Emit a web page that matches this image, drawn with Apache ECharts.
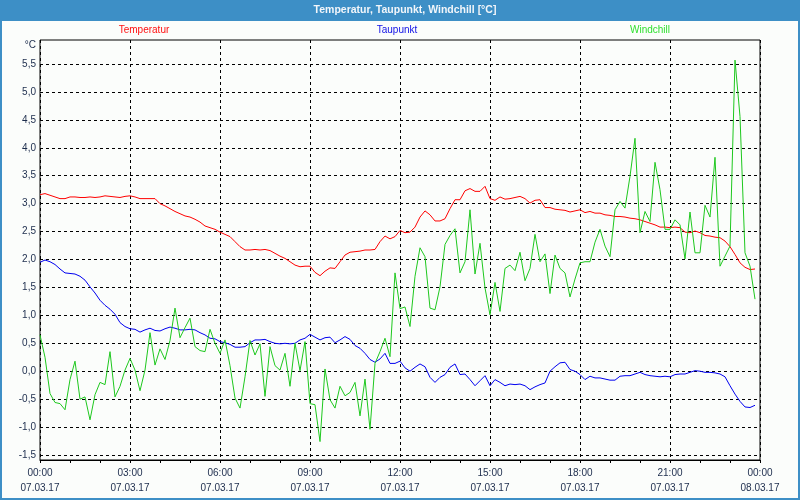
<!DOCTYPE html>
<html>
<head>
<meta charset="utf-8">
<script src="https://cdn.jsdelivr.net/npm/echarts@6/dist/echarts.min.js"></script>
<style>
html,body{margin:0;padding:0;background:#fbfdfb;}
#chart{width:800px;height:500px;}
</style>
</head>
<body>
<div id="chart"></div>
<script>
// ---- data (10-minute samples, 07.03.17 00:00 .. 23:50) ----
const STEP_HOURS = 1 / 6;
const tickTimes = ['00:00','03:00','06:00','09:00','12:00','15:00','18:00','21:00','00:00'];
const tickDates = ['07.03.17','07.03.17','07.03.17','07.03.17','07.03.17','07.03.17','07.03.17','07.03.17','08.03.17'];
const seriesNames = ['Temperatur','Taupunkt','Windchill'];

const temperatur = [
  3.16,3.18,3.15,3.12,3.09,3.09,3.12,3.12,3.11,3.11,
  3.12,3.11,3.12,3.14,3.13,3.12,3.11,3.13,3.14,3.12,
  3.09,3.09,3.09,3.09,3.00,2.96,2.91,2.86,2.82,2.78,
  2.76,2.72,2.67,2.60,2.57,2.54,2.49,2.45,2.41,
  2.32,2.23,2.17,2.17,2.18,2.17,2.18,2.16,2.11,2.06,
  2.02,1.96,1.90,1.87,1.88,1.88,1.77,1.71,1.79,1.85,
  1.84,1.96,2.08,2.13,2.14,2.15,2.17,2.17,2.18,2.32,
  2.42,2.37,2.41,2.52,2.48,2.49,2.58,2.76,
  2.87,2.80,2.69,2.69,2.73,2.91,3.07,3.07,3.23,3.27,
  3.22,3.22,3.31,3.09,3.06,3.12,3.08,3.09,3.11,3.13,
  3.09,3.01,3.06,3.07,2.93,2.93,2.90,2.89,2.88,2.85,
  2.87,2.89,2.84,2.86,2.83,2.83,2.80,2.79,
  2.77,2.77,2.76,2.74,2.73,2.71,2.68,2.65,2.62,2.58,
  2.58,2.57,2.58,2.57,2.49,2.48,2.51,2.48,2.43,2.42,
  2.40,2.39,2.33,2.23,2.09,1.94,1.86,1.82,1.83
];
const taupunkt = [
  1.95,1.99,1.96,1.91,1.83,1.76,1.75,1.74,1.70,1.63,
  1.51,1.40,1.27,1.18,1.11,1.02,0.87,0.80,0.76,0.75,
  0.70,0.74,0.77,0.73,0.72,0.76,0.79,0.77,0.74,0.74,
  0.75,0.74,0.69,0.65,0.59,0.58,0.53,0.51,0.48,
  0.43,0.43,0.44,0.51,0.56,0.56,0.57,0.53,0.50,0.49,
  0.50,0.49,0.50,0.56,0.59,0.66,0.61,0.56,0.60,0.61,
  0.51,0.56,0.62,0.57,0.46,0.41,0.32,0.21,0.16,0.22,
  0.32,0.14,0.14,0.18,0.06,0.00,0.07,0.13,
  0.08,-0.11,-0.20,-0.11,-0.06,0.07,0.13,-0.06,-0.05,-0.15,
  -0.26,-0.17,-0.08,-0.26,-0.15,-0.20,-0.26,-0.23,-0.24,-0.23,
  -0.26,-0.33,-0.28,-0.24,-0.21,0.00,0.08,0.15,0.16,0.03,
  0.00,-0.06,-0.15,-0.09,-0.12,-0.12,-0.14,-0.16,
  -0.16,-0.09,-0.08,-0.08,-0.05,-0.02,-0.06,-0.08,-0.09,-0.10,
  -0.09,-0.10,-0.06,-0.05,-0.05,-0.02,0.01,0.00,-0.02,-0.02,
  -0.03,-0.05,-0.10,-0.26,-0.41,-0.54,-0.64,-0.65,-0.61
];
const windchill = [
  0.65,0.25,-0.40,-0.56,-0.58,-0.69,-0.15,0.18,-0.50,-0.46,
  -0.87,-0.42,-0.20,-0.24,0.35,-0.46,-0.27,0.02,0.23,0.02,
  -0.35,0.02,0.69,0.11,0.40,0.21,0.55,1.13,0.60,0.78,
  0.95,0.44,0.37,0.35,0.75,0.50,0.32,0.56,0.10,
  -0.48,-0.66,-0.10,0.55,0.29,0.49,-0.45,0.44,0.10,0.02,
  0.32,-0.27,0.50,0.01,0.53,-0.58,-0.60,-1.26,0.04,-0.51,
  -0.66,-0.27,-0.44,-0.38,-0.20,-0.80,-0.14,-1.04,0.14,0.35,
  0.59,0.26,1.76,1.12,1.15,0.80,1.70,2.21,
  2.05,1.13,1.10,1.51,2.27,2.43,2.55,1.76,1.96,2.89,
  1.74,2.29,1.49,1.01,1.59,1.07,1.84,1.90,1.80,2.13,
  1.62,1.84,2.45,1.96,2.10,1.39,2.08,1.84,1.76,1.33,
  1.65,1.94,1.96,1.96,2.31,2.54,2.24,2.05,
  2.89,3.04,2.92,3.49,4.17,2.48,2.86,2.68,3.74,3.25,
  2.54,2.54,2.71,2.62,2.01,2.85,2.12,2.12,2.97,2.76,
  3.83,1.88,2.06,2.24,5.57,4.56,2.12,1.88,1.29
];

// ---- layout ----
const FONT = 'Liberation Sans, Arial, sans-serif';
const LABEL_COLOR = '#1c2c4c';
const pxPerUnit = 391 / 7;            // -1.5 .. 5.5 spans 391 px
const yMax = 5.5 + 24 / pxPerUnit;    // frame top 24 px above 5.5
const yMin = -1.5 - 5 / pxPerUnit;    // frame bottom 5 px below -1.5

const toPairs = arr => arr.map((v, i) => [i * STEP_HOURS, v]);

const chart = echarts.init(document.getElementById('chart'), null, {renderer: 'canvas'});
chart.setOption({
  animation: false,
  backgroundColor: '#fbfdfb',
  graphic: [
    {type: 'rect', shape: {x: 0, y: 0, width: 800, height: 21}, style: {fill: '#3d8fc6'}, silent: true},
    {type: 'rect', shape: {x: 1, y: 1, width: 798, height: 498}, style: {fill: null, stroke: '#3d8fc6', lineWidth: 2}, silent: true},
    {type: 'text', x: 405, y: 10, style: {text: 'Temperatur, Taupunkt, Windchill [°C]', fill: '#f2f6fa', font: 'bold 10.5px ' + FONT, textAlign: 'center', textVerticalAlign: 'middle'}},
    {type: 'text', x: 144, y: 30.5, style: {text: seriesNames[0], fill: '#ff1010', font: '10px ' + FONT, textAlign: 'center', textVerticalAlign: 'middle'}},
    {type: 'text', x: 397, y: 30.5, style: {text: seriesNames[1], fill: '#1010e6', font: '10px ' + FONT, textAlign: 'center', textVerticalAlign: 'middle'}},
    {type: 'text', x: 650, y: 30.5, style: {text: seriesNames[2], fill: '#30e030', font: '10px ' + FONT, textAlign: 'center', textVerticalAlign: 'middle'}},
    {type: 'text', x: 36, y: 45, style: {text: '°C', fill: LABEL_COLOR, font: '10px ' + FONT, textAlign: 'right', textVerticalAlign: 'middle'}}
  ],
  grid: [
    {left: 40, right: 40, top: 40, bottom: 40, show: true, borderColor: '#000', borderWidth: 1, backgroundColor: 'transparent'},
    {left: 40, right: 40, top: 64, bottom: 45}
  ],
  xAxis: [
    {
      gridIndex: 0, type: 'value', min: 0, max: 24, interval: 3,
      axisLine: {show: true, onZero: false, lineStyle: {color: '#000', width: 1}},
      axisTick: {show: true, length: 3, lineStyle: {color: '#000'}},
      minorTick: {show: true, splitNumber: 3, length: 3, lineStyle: {color: '#000'}},
      splitLine: {show: true, lineStyle: {color: '#000', type: [3, 3], width: 1}},
      axisLabel: {
        margin: 6, color: LABEL_COLOR, fontFamily: FONT, fontSize: 10, lineHeight: 15,
        formatter: v => { const i = Math.round(v / 3); return tickTimes[i] + '\n' + tickDates[i]; }
      }
    },
    {gridIndex: 1, type: 'value', min: 0, max: 24, show: false, axisLine: {onZero: false}}
  ],
  yAxis: [
    {gridIndex: 0, type: 'value', min: yMin, max: yMax, show: false, axisLine: {onZero: false}},
    {
      gridIndex: 1, type: 'value', min: -1.5, max: 5.5, interval: 0.5,
      axisLine: {show: false, onZero: false}, axisTick: {show: false},
      splitLine: {show: true, lineStyle: {color: '#000', type: [3, 3], width: 1}},
      axisLabel: {margin: 4, color: LABEL_COLOR, fontFamily: FONT, fontSize: 10,
        formatter: v => v.toFixed(1).replace('.', ',')}
    }
  ],
  series: [
    {name: seriesNames[0], type: 'line', xAxisIndex: 0, yAxisIndex: 0, data: toPairs(temperatur), showSymbol: false, lineStyle: {color: '#ff0000', width: 1}, itemStyle: {color: '#ff0000'}},
    {name: seriesNames[1], type: 'line', xAxisIndex: 0, yAxisIndex: 0, data: toPairs(taupunkt), showSymbol: false, lineStyle: {color: '#0000f0', width: 1}, itemStyle: {color: '#0000f0'}},
    {name: seriesNames[2], type: 'line', xAxisIndex: 0, yAxisIndex: 0, data: toPairs(windchill), showSymbol: false, lineStyle: {color: '#1ec81e', width: 1}, itemStyle: {color: '#1ec81e'}}
  ]
});
</script>
</body>
</html>
